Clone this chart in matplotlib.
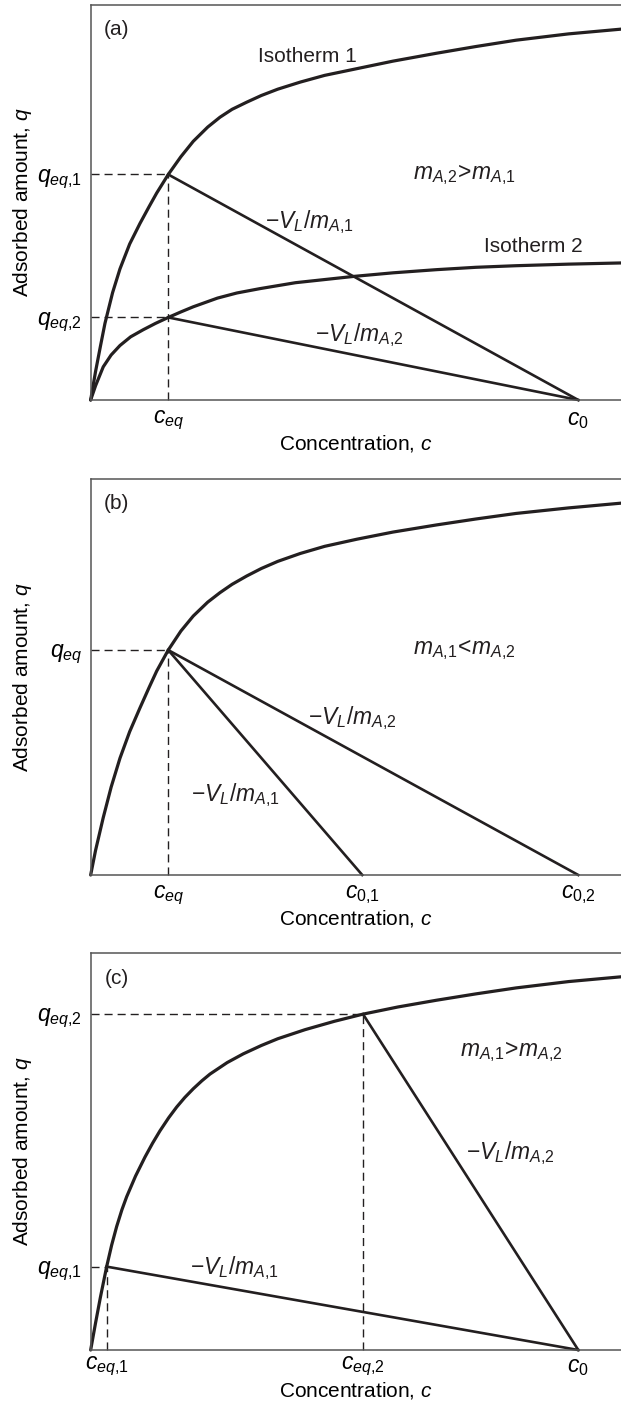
import numpy as np
import matplotlib
matplotlib.use("Agg")
import matplotlib.pyplot as plt

plt.rcParams['font.family'] = ['Liberation Sans', 'DejaVu Sans']
plt.rcParams['mathtext.fontset'] = 'custom'
plt.rcParams['mathtext.rm'] = 'Liberation Sans'
plt.rcParams['mathtext.it'] = 'Liberation Sans:italic'
plt.rcParams['mathtext.bf'] = 'Liberation Sans:bold'

INK = '#231f20'

# ---- panel (a): two isotherms, same c0 ----
iso1_a_c = [0, 0.1, 0.2, 0.293, 0.45, 0.601, 0.8, 1.011, 1.2, 1.354, 1.591, 1.85, 2.104, 2.4,
            2.652, 2.9, 3.199, 3.5, 3.837, 4.3, 4.8, 5.461, 6.2, 7.092, 7.9, 8.722, 9.8, 10.876]
iso1_a_q = [0, 0.72, 1.36, 1.94, 2.72, 3.32, 3.95, 4.47, 4.90, 5.24, 5.71, 6.16, 6.55, 6.91,
            7.16, 7.36, 7.54, 7.71, 7.87, 8.05, 8.22, 8.39, 8.58, 8.78, 8.95, 9.11, 9.27, 9.39]
iso2_a_c = [0, 0.1, 0.258, 0.42, 0.601, 0.82, 1.079, 1.33, 1.591, 1.85, 2.104, 2.6, 3.0,
            3.472, 4.2, 5.40, 6.2, 7.09, 7.9, 8.72, 9.8, 10.876]
iso2_a_q = [0, 0.36, 0.84, 1.14, 1.38, 1.60, 1.78, 1.94, 2.09, 2.23, 2.36, 2.58, 2.71,
            2.82, 2.97, 3.13, 3.22, 3.30, 3.36, 3.40, 3.44, 3.47]
ceq_a = 1.591
qeq_a = [5.71, 2.09]
c0_a = 10.0

# ---- panel (b): one isotherm, two c0 ----
iso_b_c = [0, 0.1, 0.258, 0.42, 0.601, 0.8, 1.011, 1.2, 1.354, 1.591, 1.85, 2.104, 2.4, 2.652,
           2.9, 3.199, 3.5, 3.837, 4.3, 4.8, 5.461, 6.2, 7.092, 7.9, 8.722, 9.8, 10.876]
iso_b_q = [0, 0.62, 1.45, 2.22, 2.95, 3.62, 4.22, 4.74, 5.15, 5.68, 6.16, 6.54, 6.89, 7.13,
           7.34, 7.55, 7.74, 7.92, 8.12, 8.30, 8.48, 8.66, 8.84, 8.99, 9.13, 9.27, 9.39]
ceq_b = 1.591
qeq_b = 5.68
c0_b = [5.57, 10.0]

# ---- panel (c): one isotherm, two equilibrium points ----
iso_c_c = [0, 0.1, 0.2, 0.328, 0.43, 0.533, 0.64, 0.738, 0.92, 1.114, 1.27, 1.421, 1.6, 1.764,
           1.93, 2.104, 2.28, 2.447, 2.8, 3.13, 3.5, 3.837, 4.4, 5.0, 5.585, 6.3, 7.092, 7.9,
           8.722, 9.8, 10.876]
iso_c_q = [0, 0.68, 1.33, 2.10, 2.64, 3.11, 3.53, 3.86, 4.38, 4.86, 5.21, 5.52, 5.85, 6.12,
           6.36, 6.58, 6.78, 6.95, 7.24, 7.46, 7.67, 7.84, 8.07, 8.28, 8.46, 8.64, 8.81, 8.97,
           9.12, 9.28, 9.40]
ceq_c = [0.328, 5.585]
qeq_c = [2.10, 8.46]
c0_c = 10.0

fig = plt.figure(figsize=(6.21, 14.04), dpi=100)
left = 0.146
boxes = [(0.7151, 0.2813), (0.37678, 0.28205), (0.03846, 0.28277)]
axs = [fig.add_axes([left, b, 1.0 - left, h]) for b, h in boxes]

FS = 15
FS_M = 16.5
curve_kw = dict(color=INK, lw=2.3, clip_on=False, solid_capstyle='round', solid_joinstyle='round')
line_kw = dict(color=INK, lw=1.9, clip_on=False)
dash_kw = dict(color=INK, lw=1.0, dashes=(5.8, 3.6), clip_on=False)


def setup(ax, xticks, xlabels, yticks, ylabels, tag, xlab_y, xpad=6):
    ax.set_xlim(0, 10.876)
    ax.set_ylim(0, 10)
    ax.spines['right'].set_visible(False)
    for s in ['left', 'top', 'bottom']:
        ax.spines[s].set_color('#555555')
        ax.spines[s].set_linewidth(1.1)
    ax.set_xticks(xticks)
    ax.set_xticklabels(xlabels, fontsize=FS_M)
    ax.set_yticks(yticks)
    ax.set_yticklabels(ylabels, fontsize=FS_M)
    ax.tick_params(axis='x', length=0, pad=xpad)
    ax.tick_params(axis='y', length=0, pad=6)
    ax.set_xlabel('Concentration, $c$', fontsize=FS, va='center')
    ax.xaxis.set_label_coords(0.5, xlab_y)
    ax.set_ylabel('Adsorbed amount, $q$', fontsize=FS, va='center')
    ax.yaxis.set_label_coords(-0.129, 0.5)
    ax.text(0.533, 9.37, tag, fontsize=FS, ha='center', va='center', color=INK)


def note(ax, x, y, s, fs=FS_M):
    ax.text(x, y, s, fontsize=fs, ha='center', va='center', color=INK)


# (a)
ax = axs[0]
ax.plot(iso1_a_c, iso1_a_q, **curve_kw)
ax.plot(iso2_a_c, iso2_a_q, **curve_kw)
for q in qeq_a:
    ax.plot([ceq_a, c0_a], [q, 0], **line_kw)
    ax.plot([0, ceq_a], [q, q], **dash_kw)
ax.plot([ceq_a, ceq_a], [0, qeq_a[0]], **dash_kw)
setup(ax, [ceq_a, c0_a], [r'$c_{eq}$', r'$c_\mathrm{0}$'], qeq_a,
      [r'$q_{eq{,}\mathrm{1}}$', r'$q_{eq{,}\mathrm{2}}$'], '(a)', -0.11)
note(ax, 4.446, 8.70, 'Isotherm 1', FS)
note(ax, 9.07, 3.88, 'Isotherm 2', FS)
note(ax, 7.66, 5.70, r'$m_{A{,}\mathrm{2}}\!>\!m_{A{,}\mathrm{1}}$')
note(ax, 4.487, 4.51, r'$-V_L/m_{A{,}\mathrm{1}}$')
note(ax, 5.505, 1.65, r'$-V_L/m_{A{,}\mathrm{2}}$')

# (b)
ax = axs[1]
ax.plot(iso_b_c, iso_b_q, **curve_kw)
for c0 in c0_b:
    ax.plot([ceq_b, c0], [qeq_b, 0], **line_kw)
ax.plot([0, ceq_b], [qeq_b, qeq_b], **dash_kw)
ax.plot([ceq_b, ceq_b], [0, qeq_b], **dash_kw)
setup(ax, [ceq_b] + c0_b, [r'$c_{eq}$', r'$c_{\mathrm{0{,}1}}$', r'$c_{\mathrm{0{,}2}}$'],
      [qeq_b], [r'$q_{eq}$'], '(b)', -0.11)
note(ax, 7.66, 5.68, r'$m_{A{,}\mathrm{1}}\!<\!m_{A{,}\mathrm{2}}$')
note(ax, 5.367, 3.96, r'$-V_L/m_{A{,}\mathrm{2}}$')
note(ax, 2.966, 2.02, r'$-V_L/m_{A{,}\mathrm{1}}$')

# (c)
ax = axs[2]
ax.plot(iso_c_c, iso_c_q, **curve_kw)
for c, q in zip(ceq_c, qeq_c):
    ax.plot([c, c0_c], [q, 0], **line_kw)
    ax.plot([0, c], [q, q], **dash_kw)
    ax.plot([c, c], [0, q], **dash_kw)
setup(ax, ceq_c + [c0_c], [r'$c_{eq{,}\mathrm{1}}$', r'$c_{eq{,}\mathrm{2}}$', r'$c_\mathrm{0}$'],
      qeq_c, [r'$q_{eq{,}\mathrm{1}}$', r'$q_{eq{,}\mathrm{2}}$'], '(c)', -0.103, xpad=3.5)
note(ax, 8.618, 7.51, r'$m_{A{,}\mathrm{1}}\!>\!m_{A{,}\mathrm{2}}$')
note(ax, 8.607, 4.95, r'$-V_L/m_{A{,}\mathrm{2}}$')
note(ax, 2.953, 2.06, r'$-V_L/m_{A{,}\mathrm{1}}$')

fig.savefig('out.png', dpi=100)
